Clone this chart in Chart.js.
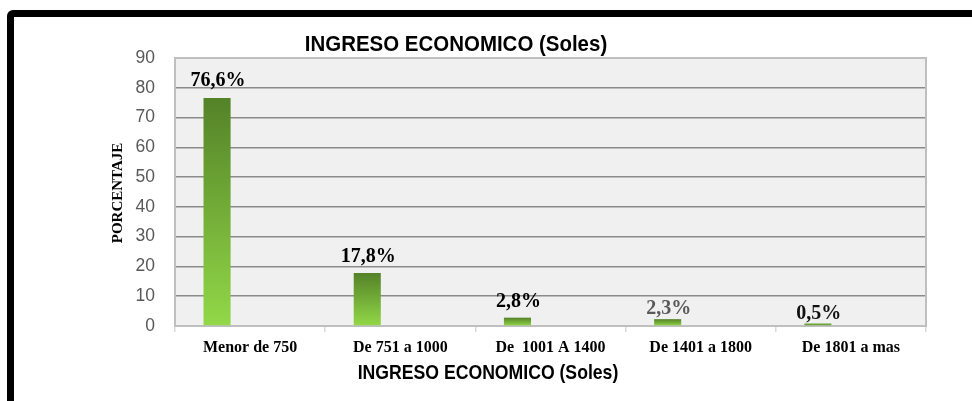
<!DOCTYPE html>
<html>
<head>
<meta charset="utf-8">
<script src="https://cdn.jsdelivr.net/npm/chart.js@4.4.1/dist/chart.umd.min.js"></script>
<style>
  html, body { margin: 0; padding: 0; background: #fff; overflow: hidden; }
  #wrap { position: relative; width: 972px; height: 401px; overflow: hidden; }
  #frame { position: absolute; left: 7px; top: 10px; width: 1000px; height: 430px;
           border: 7px solid #000; border-radius: 6px; box-sizing: border-box; }
  canvas { position: absolute; left: 0; top: 0; }
</style>
</head>
<body>
<div id="wrap">
  <div id="frame"></div>
  <canvas id="c" width="972" height="401"></canvas>
</div>
<script>
// ---- data ----
const categories = ['Menor de 750', 'De 751 a 1000', 'De  1001 A 1400', 'De 1401 a 1800', 'De 1801 a mas'];
const percentages = [76.6, 17.8, 2.8, 2.3, 0.5];
const emptySeries = [null, null, null, null, null];
const yMin = 0, yMax = 90, yStep = 10;
const chartTitle = 'INGRESO ECONOMICO (Soles)';
const xTitle = 'INGRESO ECONOMICO (Soles)';
const yTitle = 'PORCENTAJE';

// label styling (manual placement as in the original)
const labelLift = [12, 11, 11, 5, 5];
const labelColors = ['#000000', '#000000', '#000000', '#595959', '#111111'];

function fmt(v) { return v.toFixed(1).replace('.', ',') + '%'; }

function barGradient(ctx) {
  const chart = ctx.chart;
  const area = chart.chartArea;
  if (!area || ctx.raw == null) return '#70ad47';
  const ys = chart.scales.y;
  const top = ys.getPixelForValue(ctx.raw);
  const bot = ys.getPixelForValue(0);
  if (bot - top < 4) return '#6aa53a';
  const g = chart.ctx.createLinearGradient(0, top, 0, bot);
  g.addColorStop(0, '#548228');
  g.addColorStop(1, '#92d848');
  return g;
}

const decor = {
  id: 'decor',
  beforeDraw(chart) {
    const { ctx, chartArea: a } = chart;
    ctx.save();
    ctx.fillStyle = '#f0f0f0';
    ctx.fillRect(a.left, a.top, a.right - a.left, a.bottom - a.top);
    ctx.restore();
  },
  beforeDatasetsDraw(chart) {
    const { ctx, chartArea: a } = chart;
    ctx.save();
    ctx.strokeStyle = '#bfbfbf';
    ctx.lineWidth = 2;
    ctx.strokeRect(a.left, a.top, a.right - a.left, a.bottom - a.top);
    ctx.restore();
  },
  afterDatasetsDraw(chart) {
    const { ctx } = chart;
    const meta = chart.getDatasetMeta(0);
    ctx.save();
    ctx.font = 'bold 20px "Liberation Serif", "Times New Roman", serif';
    ctx.textAlign = 'center';
    ctx.textBaseline = 'alphabetic';
    meta.data.forEach((bar, i) => {
      ctx.fillStyle = labelColors[i];
      ctx.fillText(fmt(percentages[i]), bar.x + 1, bar.y - labelLift[i]);
    });
    // top title (slightly condensed like the original)
    ctx.fillStyle = '#000';
    ctx.font = 'bold 22px "Liberation Sans", Arial, sans-serif';
    ctx.save();
    ctx.translate(456, 51);
    ctx.scale(0.93, 1);
    ctx.fillText(chartTitle, 0, 0);
    ctx.restore();
    // x axis title
    ctx.font = 'bold 20.5px "Liberation Sans", Arial, sans-serif';
    ctx.save();
    ctx.translate(488, 379);
    ctx.scale(0.86, 1);
    ctx.fillText(xTitle, 0, 0);
    ctx.restore();
    // y axis title
    ctx.font = 'bold 15px "Liberation Serif", "Times New Roman", serif';
    ctx.save();
    ctx.translate(118, 193);
    ctx.rotate(-Math.PI / 2);
    ctx.textBaseline = 'middle';
    ctx.fillText(yTitle, 0, 0);
    ctx.restore();
    ctx.restore();
  }
};

new Chart(document.getElementById('c'), {
  type: 'bar',
  data: {
    labels: categories,
    datasets: [
      { label: 'Porcentaje', data: percentages, backgroundColor: barGradient, borderWidth: 0, minBarLength: 2.5 },
      { label: '', data: emptySeries, backgroundColor: 'rgba(0,0,0,0)', borderWidth: 0 }
    ]
  },
  options: {
    responsive: false,
    animation: false,
    events: [],
    layout: { padding: { left: 0, right: 46, top: 58, bottom: 0 } },
    datasets: { bar: { categoryPercentage: 0.88, barPercentage: 0.41 } },
    plugins: { legend: { display: false }, tooltip: { enabled: false }, title: { display: false } },
    scales: {
      x: {
        offset: true,
        afterFit(s) { s.height = 75; },
        grid: { drawOnChartArea: false, drawTicks: true, tickLength: 6, color: '#d9d9d9', lineWidth: 1.5 },
        border: { color: '#bfbfbf', width: 2 },
        ticks: {
          color: '#000',
          padding: 6,
          maxRotation: 0,
          autoSkip: false,
          font: { family: '"Liberation Serif", "Times New Roman", serif', size: 16, weight: 'bold' }
        }
      },
      y: {
        min: yMin, max: yMax,
        afterFit(s) { s.width = 175; },
        grid: {
          drawTicks: false,
          color: (c) => (c.tick && (c.tick.value === yMax || c.tick.value === yMin)) ? '#bfbfbf' : '#8a8a8a',
          lineWidth: 1.5
        },
        border: { color: '#bfbfbf', width: 2 },
        ticks: {
          stepSize: yStep,
          padding: 20,
          color: '#595959',
          font: { family: '"Liberation Sans", Arial, sans-serif', size: 17.5 }
        }
      }
    }
  },
  plugins: [decor]
});
</script>
</body>
</html>
